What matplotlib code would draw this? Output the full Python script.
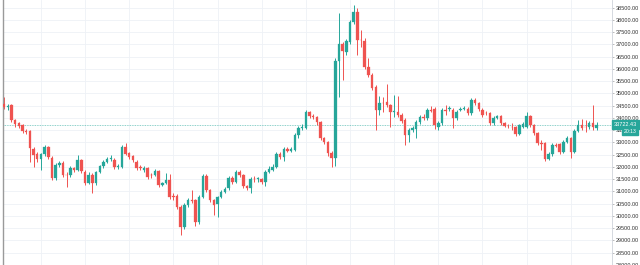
import numpy as np
import matplotlib
matplotlib.use("Agg")
import matplotlib.pyplot as plt
import matplotlib.transforms as mtransforms

# OHLC values (one entry per candle)
opens = [34570, 34440, 34520, 33910, 33790, 33710, 33460, 33460, 32730, 32530,
         32320, 32530, 32810, 32360, 31550, 32080, 32160, 31670, 31670, 31960,
         31870, 32280, 31790, 31340, 31670, 31340, 31790, 32040, 32200, 32320,
         32280, 32000, 32000, 32810, 32570, 32440, 32200, 32000, 31870, 31960,
         31670, 31670, 31830, 31260, 31340, 31470, 30810, 30810, 30370, 29550,
         30450, 30650, 30650, 29750, 30770, 31630, 31060, 30650, 30490, 30770,
         30980, 31140, 31550, 31380, 31790, 31670, 31220, 31140, 31510, 31510,
         31510, 31380, 31790, 31870, 32000, 32530, 32400, 32730, 32650, 32690,
         33300, 33590, 33590, 34240, 34080, 34030, 33830, 33180, 33020, 32570,
         32360, 36320, 37010, 36690, 37090, 37910, 38320, 37180, 37130, 36070,
         35750, 35260, 34320, 34610, 34650, 34520, 34240, 34240, 34120, 33910,
         33300, 33500, 33550, 33830, 34030, 33990, 34320, 34360, 33630, 33790,
         34320, 34380, 34320, 33990, 34340, 34380, 34360, 34200, 34730, 34610,
         34320, 34200, 34200, 33790, 33990, 34080, 33790, 33670, 33630, 33630,
         33340, 33630, 33630, 34080, 33710, 33380, 32970, 32970, 32320, 32530,
         32890, 32930, 32610, 33020, 33180, 32610, 33460, 33710, 33630, 33630,
         33790, 33590]
highs = [34850, 34570, 34570, 33950, 33830, 33750, 33550, 33500, 32810, 32610,
         32570, 32890, 32850, 32440, 32160, 32240, 32240, 31790, 32040, 32000,
         32490, 32320, 31870, 31790, 31750, 31830, 32080, 32280, 32400, 32490,
         32360, 32120, 32890, 32970, 32610, 32490, 32280, 32080, 32040, 32000,
         31750, 31910, 31870, 31380, 31750, 31710, 30940, 30890, 30450, 30530,
         30730, 31060, 30690, 30850, 31710, 31710, 31100, 30690, 30810, 31060,
         31180, 31630, 31630, 31870, 31870, 31710, 31260, 31590, 31630, 31590,
         31550, 31870, 32040, 32120, 32610, 32610, 32810, 32810, 32810, 33380,
         33670, 33750, 34320, 34280, 34160, 34080, 33870, 33220, 33060, 32650,
         36440, 38280, 37090, 37220, 37990, 38600, 38480, 37580, 37260, 36440,
         35830, 35340, 34890, 34850, 35380, 34570, 34930, 34890, 34200, 33990,
         33590, 33670, 33910, 34120, 34160, 34400, 34480, 34440, 33870, 34400,
         34520, 34480, 34400, 34320, 34440, 34480, 34440, 34810, 34810, 34650,
         34400, 34280, 34240, 34080, 34120, 34120, 33830, 33750, 33790, 33670,
         33750, 33830, 34240, 34120, 33750, 33420, 33100, 33020, 32610, 32970,
         32970, 32970, 33100, 33260, 33220, 33550, 33910, 33950, 33910, 33870,
         34520, 33830]
lows = [34360, 34320, 33830, 33630, 33590, 33380, 33340, 32200, 32000, 32200,
        31870, 32440, 32320, 31470, 31470, 32000, 31590, 31180, 31590, 31790,
        31830, 31750, 31260, 31300, 30940, 31260, 31750, 31960, 32160, 32240,
        31910, 31910, 31960, 32490, 32320, 32200, 31870, 31870, 31790, 31510,
        31550, 31630, 31180, 31220, 31300, 30690, 30650, 30280, 29220, 29470,
        30370, 30530, 29590, 29670, 30730, 30980, 30570, 30040, 29960, 30730,
        30940, 31060, 31300, 31340, 31590, 31140, 31060, 30940, 31380, 31380,
        31300, 31220, 31750, 31830, 31960, 32320, 32240, 32610, 32610, 32650,
        33180, 33500, 33550, 33990, 33950, 33710, 33100, 32930, 32440, 32000,
        32040, 34850, 35540, 36560, 37010, 37830, 36560, 36890, 35990, 35670,
        35140, 33500, 34120, 34240, 34440, 33630, 34030, 34030, 33790, 32890,
        33020, 33420, 33180, 33750, 33910, 33910, 34240, 33550, 33500, 33710,
        34120, 34280, 33590, 33910, 34280, 34320, 34120, 34120, 34520, 34280,
        34030, 34120, 33710, 33710, 33950, 33710, 33630, 33590, 33500, 33260,
        33300, 33590, 33590, 33630, 33300, 32890, 32690, 32240, 32280, 32440,
        32810, 32530, 32570, 32970, 32360, 32570, 33420, 33500, 33420, 33550,
        33500, 33500]
closes = [34440, 34480, 33910, 33750, 33670, 33460, 33440, 32770, 32490, 32320,
          32530, 32810, 32400, 31550, 32080, 32160, 31670, 31650, 31960, 31870,
          32280, 31830, 31340, 31670, 31340, 31790, 32040, 32200, 32320, 32360,
          32000, 32040, 32810, 32530, 32400, 32280, 31960, 31960, 31960, 31590,
          31650, 31830, 31260, 31340, 31470, 30770, 30790, 30370, 29550, 30450,
          30650, 30610, 29750, 30770, 31630, 31060, 30650, 30450, 30770, 30980,
          31100, 31550, 31380, 31790, 31670, 31220, 31140, 31510, 31490, 31520,
          31380, 31790, 31910, 32000, 32530, 32400, 32730, 32650, 32730, 33300,
          33590, 33630, 34240, 34080, 34030, 33830, 33180, 33020, 32570, 32360,
          36320, 37010, 36730, 37130, 37910, 38320, 37180, 37160, 36070, 35750,
          35220, 34320, 34610, 34590, 34520, 34240, 34250, 34120, 33870, 33300,
          33500, 33590, 33830, 34030, 34010, 34320, 34300, 33710, 33790, 34320,
          34300, 34400, 33990, 34240, 34360, 34400, 34200, 34730, 34610, 34360,
          34120, 34180, 33790, 33990, 34080, 33790, 33670, 33650, 33610, 33340,
          33710, 33750, 34080, 33710, 33380, 32970, 32950, 32320, 32530, 32890,
          32870, 32610, 33020, 33180, 32610, 33460, 33710, 33590, 33610, 33790,
          33630, 33722.43]

price_ticks = list(range(28000, 38501, 500))
last_price = 33722.43
countdown = "20:13"

UP = "#26a69a"
DOWN = "#ef5350"
LABEL_FONT = "Liberation Sans"

o = np.array(opens, dtype=float)
h = np.array(highs, dtype=float)
l = np.array(lows, dtype=float)
c = np.array(closes, dtype=float)
x = np.arange(len(o))
colors = np.where(c >= o, UP, DOWN)

fig = plt.figure(figsize=(6.4, 2.65), dpi=100)
ax = fig.add_axes([3 / 640, 0, 609 / 640, 1])

# grid
for v in price_ticks:
    ax.axhline(v, color="#eef1f6", lw=0.6, zorder=0)
for g in range(10, len(o), 12):
    ax.axvline(g, color="#eef1f6", lw=0.6, zorder=0)

# candles
ax.vlines(x, l, h, colors=colors, lw=0.7, zorder=2)
body_h = np.maximum(np.abs(c - o), 20)
ax.bar(x, body_h, bottom=np.minimum(o, c), width=0.68, color=colors,
       edgecolor=colors, linewidth=0.2, zorder=3)

# last price line
ax.axhline(last_price, color=UP, lw=0.6, ls=(0, (1, 1)), alpha=0.7, zorder=1)

ax.set_xlim(-0.3, 165.2)
ax.set_ylim(28000, 38806)

ax.yaxis.tick_right()
ax.set_yticks(price_ticks)
ax.set_yticklabels([f"{v:.2f}" for v in price_ticks], family=LABEL_FONT)
ax.tick_params(axis="y", labelsize=4.0, colors="#888888", length=1.5, width=0.4,
               pad=1.2, labelcolor="#333333")
ax.set_xticks([])

for side in ["top", "bottom"]:
    ax.spines[side].set_visible(False)
ax.spines["left"].set_color("#9a9a9a")
ax.spines["left"].set_linewidth(1.0)
ax.spines["right"].set_color("#cfd3da")
ax.spines["right"].set_linewidth(0.6)

trans = mtransforms.blended_transform_factory(ax.transAxes, ax.transData)
ax.text(1.003, last_price, f"{last_price:.2f}", transform=trans, fontsize=4.0,
        family=LABEL_FONT, color="white", va="center", ha="left", clip_on=False,
        bbox=dict(boxstyle="square,pad=0.35", fc=UP, ec=UP), zorder=5)
ax.text(1.04, last_price - 270, countdown, transform=trans, fontsize=3.7,
        family=LABEL_FONT, color="white", va="center", ha="right", clip_on=False,
        bbox=dict(boxstyle="square,pad=0.3", fc=UP, ec=UP), zorder=6)

fig.savefig("out.png", dpi=100)
